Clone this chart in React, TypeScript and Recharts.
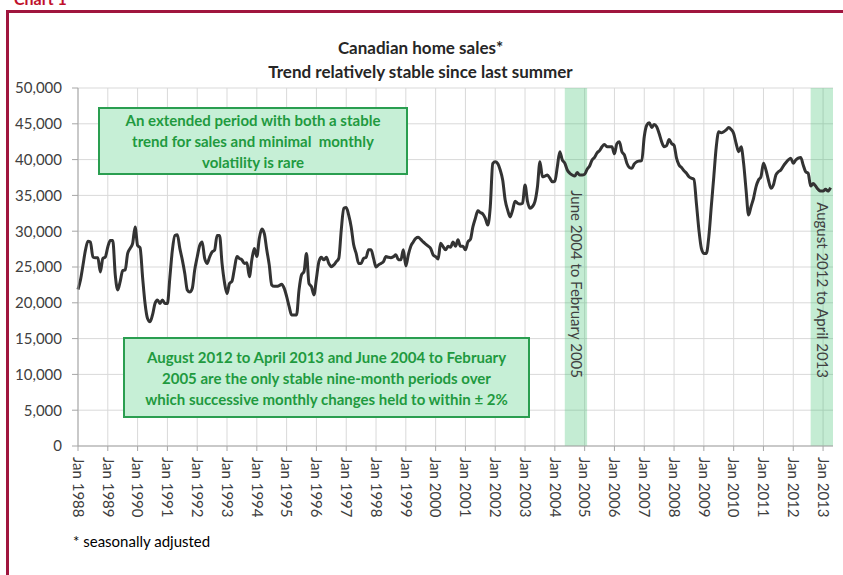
import {
  LineChart,
  Line,
  XAxis,
  YAxis,
  CartesianGrid,
  ReferenceArea,
} from "recharts";

// Canadian home sales, seasonally adjusted, monthly from Jan 1988
const startYear = 1988;
const sales: number[] = [
  21860, 23200, 25250, 27350, 28600, 28500, 26400, 26300, 26300, 24300, 26200, 26400, // 1988
  27800, 28700, 28700, 23900, 21800, 23000, 24500, 24600, 26900, 27600, 28300, 30600, // 1989
  28000, 27700, 23600, 19900, 17800, 17350, 18300, 19900, 20400, 19900, 20400, 19900, // 1990
  19900, 23600, 27350, 29400, 29500, 27600, 26000, 24100, 21800, 21500, 22000, 24600, // 1991
  26400, 28000, 28500, 26200, 25500, 26400, 27100, 27350, 29400, 29400, 25500, 22800, // 1992
  21300, 22700, 23000, 24800, 26450, 26200, 26000, 25500, 25600, 23650, 26000, 27600, // 1993
  26450, 29000, 30300, 29700, 27400, 25300, 22500, 22300, 22300, 22400, 22600, 22050, // 1994
  20900, 19500, 18300, 18300, 18300, 21800, 23900, 24350, 26900, 22700, 22250, 21100, // 1995
  23400, 25750, 26350, 26000, 26350, 25500, 25050, 25300, 25750, 26200, 30150, 33200, // 1996
  33300, 32250, 30600, 28100, 26900, 25500, 25500, 26200, 26350, 27400, 27400, 26200, // 1997
  25000, 25300, 25500, 25750, 26450, 26350, 26300, 26450, 26700, 26000, 26000, 27400, // 1998
  25150, 26700, 27900, 28500, 29000, 29150, 28850, 28500, 28200, 27900, 27600, 26700, // 1999
  26450, 26100, 28300, 27850, 27400, 27900, 27750, 28500, 27900, 28800, 27900, 27900, // 2000
  27400, 28500, 28850, 30600, 31800, 32850, 32600, 32400, 31800, 30850, 33400, 39450, // 2001
  39700, 39450, 38550, 37150, 34350, 32950, 32000, 32950, 34200, 33900, 33800, 33900, // 2002
  36450, 34150, 33200, 33450, 34150, 36200, 39700, 37600, 37700, 37850, 37400, 36900, // 2003
  37000, 39000, 41100, 39950, 39500, 38550, 38100, 37850, 37700, 38200, 37850, 37850, // 2004
  37950, 38650, 39100, 39950, 40300, 40950, 41250, 41800, 42100, 41800, 41800, 41800, // 2005
  40800, 42250, 42500, 41100, 40650, 39500, 38900, 38800, 39400, 39700, 39800, 39850, // 2006
  43200, 44800, 45150, 44500, 44900, 44600, 43650, 42500, 41800, 41950, 42800, 42250, // 2007
  42000, 40200, 39250, 38900, 38450, 38100, 37600, 37400, 37250, 33900, 30200, 27600, // 2008
  26900, 26900, 29250, 33450, 37600, 41800, 43900, 43750, 43900, 44150, 44500, 44200, // 2009
  43650, 42250, 41100, 41800, 39500, 35750, 32250, 33450, 34600, 36200, 37150, 37600, // 2010
  39500, 38550, 37150, 36000, 36450, 37850, 38300, 38550, 39100, 39550, 39950, 40200, // 2011
  39500, 39950, 40200, 40300, 39250, 38300, 38100, 36300, 36650, 36300, 35850, 35600, // 2012
  35600, 35850, 35600, 36100, // 2013
];

const tickYears = [
  1988, 1989, 1990, 1991, 1992, 1993, 1994, 1995, 1996, 1997, 1998, 1999, 2000,
  2001, 2002, 2003, 2004, 2005, 2006, 2007, 2008, 2009, 2010, 2011, 2012, 2013,
];
const yTicks = [0, 5000, 10000, 15000, 20000, 25000, 30000, 35000, 40000, 45000, 50000];

// stable nine-month periods, as month index from Jan 1988
const bands = [
  { from: 196, to: 205, text: "June 2004 to February 2005" },
  { from: 295, to: 304, text: "August 2012 to April 2013" },
];

const font = "Lato, 'Open Sans', sans-serif";
const green = "#1f9a3f";

const data = sales.map((v, i) => ({ i, v }));
const xTicks = tickYears.map((y) => (y - startYear) * 12);

function XTick({ x, y, payload }: any) {
  return (
    <text
      transform={`translate(${x},${y}) rotate(90)`}
      dy="0.35em"
      textAnchor="start"
      fill="#404040"
      fontSize={15}
      fontFamily={font}
    >
      {`Jan ${startYear + payload.value / 12}`}
    </text>
  );
}

function bandLabel(text: string) {
  return (props: any) => {
    const vb = props.viewBox || {};
    const cx = vb.x + vb.width / 2;
    return (
      <text
        transform={`translate(${cx},378) rotate(90)`}
        dy="0.35em"
        textAnchor="end"
        fill="#404040"
        fontSize={15}
        fontFamily={font}
      >
        {text}
      </text>
    );
  };
}

const boxStyle: React.CSSProperties = {
  position: "absolute",
  boxSizing: "border-box",
  background: "#c6efd6",
  border: "2px solid #2a9e50",
  color: green,
  fontFamily: font,
  fontWeight: 700,
  fontSize: 15,
  lineHeight: "21px",
  textAlign: "center",
};

export default function App() {
  return (
    <div
      style={{
        position: "absolute",
        left: 0,
        top: 0,
        width: 843,
        height: 575,
        overflow: "hidden",
        background: "#fff",
        fontFamily: font,
      }}
    >
      <div
        style={{
          position: "absolute",
          left: 14,
          top: -11,
          color: "#c0102c",
          fontWeight: 700,
          fontSize: 16,
        }}
      >
        Chart 1
      </div>
      <div
        style={{
          position: "absolute",
          left: 6,
          top: 10,
          width: 900,
          height: 700,
          borderLeft: "3px solid #a0153e",
          borderTop: "3px solid #a0153e",
        }}
      />
      <div
        style={{
          position: "absolute",
          left: 0,
          width: 843,
          top: 36,
          textAlign: "center",
          fontWeight: 700,
          fontSize: 17,
          lineHeight: "24px",
          color: "#262626",
        }}
      >
        <div style={{ marginLeft: -2 }}>Canadian home sales*</div>
        <div style={{ marginLeft: -2 }}>Trend relatively stable since last summer</div>
      </div>
      <div style={{ position: "absolute", left: 0, top: 0 }}>
        <LineChart
          width={843}
          height={575}
          data={data}
          margin={{ top: 88, right: 10, bottom: 0, left: 0 }}
        >
          <CartesianGrid stroke="#d9d9d9" strokeWidth={1} verticalValues={xTicks} />
          <XAxis
            dataKey="i"
            type="number"
            domain={[0, 304]}
            ticks={xTicks}
            interval={0}
            height={129}
            tick={<XTick />}
            tickSize={5}
            tickMargin={6}
            stroke="#a6a6a6"
          />
          <YAxis
            type="number"
            domain={[0, 50000]}
            ticks={yTicks}
            interval={0}
            width={78}
            tickSize={6}
            tickMargin={10}
            stroke="#a6a6a6"
            tick={{ fontSize: 15, fill: "#404040", fontFamily: font }}
            tickFormatter={(v: number) => v.toLocaleString("en-US")}
          />
          <Line
            type="monotone"
            dataKey="v"
            stroke="#333333"
            strokeWidth={3}
            dot={false}
            isAnimationActive={false}
          />
          {bands.map((b) => (
            <ReferenceArea
              key={b.text}
              x1={b.from}
              x2={b.to}
              y1={0}
              y2={50000}
              fill="#3cbf6e"
              fillOpacity={0.3}
              stroke="none"
              ifOverflow="hidden"
              label={bandLabel(b.text)}
            />
          ))}
        </LineChart>
      </div>
      <div style={{ ...boxStyle, left: 98, top: 107, width: 310, height: 68, paddingTop: 1 }}>
        An extended period with both a stable
        <br />
        trend for sales and minimal&nbsp; monthly
        <br />
        volatility is rare
      </div>
      <div style={{ ...boxStyle, left: 123, top: 337, width: 407, height: 81, paddingTop: 8 }}>
        August 2012 to April 2013 and June 2004 to February
        <br />
        2005 are the only stable nine-month periods over
        <br />
        which successive monthly changes held to within ± 2%
      </div>
      <div
        style={{
          position: "absolute",
          left: 73,
          top: 532,
          fontSize: 15,
          color: "#000",
        }}
      >
        * seasonally adjusted
      </div>
    </div>
  );
}
